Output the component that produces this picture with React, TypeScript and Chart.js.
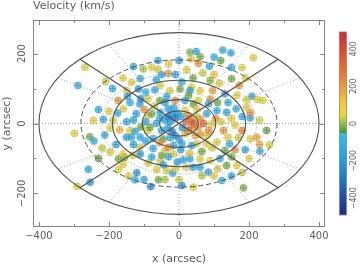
import { useEffect, useRef } from 'react';
import { Chart, registerables } from 'chart.js';

Chart.register(...registerables);

// Field positions (arcsec) and line-of-sight velocities (km/s)
const xArcsec = [
  -269, -289, -299, -259, -254, -291, -81, 8, 41, 184,
  122, 212, 125, 148, 31, 49, 60, 119, 258, 231,
  -130, 0, -102, -78, -31, -111, -135, -149, -116, -174,
  -147, -245, -216, -189, -255, -243, -212, -197, -170, -197,
  -173, -155, -132, -111, -173, -160, -121, -126, -88, -59,
  -64, -35, -18, -11, -54, -49, -40, 55, 87, 22,
  68, 89, 115, 172, 8, 96, 208, 224, 239, 193,
  163, 203, 203, 193, 203, 222, 189, 144, 108, 131,
  136, 165, 84, 65, 117, 60, 31, 12, -122, -112,
  -109, -89, -89, -109, -89, -112, -74, -74, -55, -150,
  -136, -160, -16, -31, 51, 79, -65, -54, 36, 40,
  150, -69, -26, 3, 31, 60, 89, 131, 165, -70,
  -130, -35, -11, 17, 41, 27, 55, 84, 110, 140,
  -159, -100, -78, -54, -31, 17, 51, 79, 108, 136,
  120, 60, -150, -140, -83, 93, 127, 160, -125, -111,
  -95, -45, -11, 17, 46, 79, 140, -55, 8, 36,
  65, 95, -78, -45, -16, 40, 89, 110, 150, 160,
  -40, -30, -20, -5, 25, 35, 42, 35, 25, -20,
  -32, -55, -50, 50, 55, -15, 0, -65, 70, -25,
  -10, 10, 20, -25, 5,
  -140, -130, -95, -50, -60, -175, -180, -220, -230, -200,
  -230, -145, -100, -40, 150, 180, 180, 105, 170, 230,
  250, 230, 200, 100, 60, 150, 180, 20, -5, 0,
  100, 190, 150, -10, 35, -160, -190, -210, -60, -30,
  100, 180, -40, 30, -30, 5, -95, 85, 60,
];
const yArcsec = [
  161, 109, -28, -131, -168, -180, -180, -177, -182, -184,
  -163, 188, 210, 202, 204, 206, 191, 180, -61, -79,
  163, 180, 156, 161, 143, 129, 118, 94, 99, 66,
  78, 9, 12, 9, -38, -50, -33, -13, -18, -82,
  -101, -97, -91, -87, -132, -117, -141, -161, -113, -161,
  -132, -134, -142, -130, -106, -91, -77, 172, 164, 154,
  145, 123, 115, 109, 119, 94, 78, 69, 66, 68,
  42, 16, 31, 47, -44, -39, -75, -58, -53, -77,
  -120, -120, -139, -149, -100, -101, -101, -104, 28, 56,
  71, 71, 23, -10, -20, -68, -43, -71, 66, -39,
  -39, -87, -63, -68, -58, -58, 125, 109, 104, 130,
  128, 96, 94, 99, 94, 94, 70, 85, 80, 50,
  10, 77, 66, 66, 56, 80, 66, 56, 60, 60,
  42, 40, 28, 32, 42, 37, 42, 28, 37, 32,
  5, 13, 5, -20, -11, -1, -20, -5, -22, -39,
  -50, -44, -34, -30, -34, -34, -40, -55, -58, -63,
  -80, -70, -96, -118, -87, -125, -106, -130, -95, -75,
  10, 20, 28, 30, 22, 12, 0, -12, -20, -22,
  -12, 15, -20, 20, -10, 45, -45, 0, 0, -40,
  15, -12, 5, 5, 20,
  60, -60, 90, 140, 155, 30, -60, -70, 40, 35,
  -100, -150, -160, -160, 15, 20, -20, 15, -40, 10,
  -20, -60, -100, -150, -125, -150, -140, -125, -110, -160,
  140, 130, 160, 140, 185, 130, 100, 120, 180, 170,
  190, 160, 60, -85, -95, -75, 5, -20, -30,
];
const velocity = [
  60, -120, 70, -130, -220, 50, -250, -240, 70, -20,
  -120, 80, -120, -150, -10, -130, -20, -30, 60, -130,
  -140, -170, 10, 50, 200, -110, 60, 80, -230, 200,
  -140, 60, -120, 40, -20, -120, -130, 60, 130, 70,
  -20, -10, 50, -230, 50, 60, -220, -130, 40, -20,
  60, 50, -130, 60, 60, -20, 80, 200, -130, 70,
  40, -10, 70, 190, -120, 180, -130, 70, 60, 50,
  -120, -140, 220, 60, 60, 160, -140, -120, 60, -20,
  -20, 60, -130, 20, -120, 50, -140, -130, -150, -130,
  -230, 60, 60, -20, 60, 60, -130, -130, -20, -130,
  -140, 60, -140, 200, 60, 60, -130, 60, 60, -20,
  -20, -130, 60, -20, -130, 60, 200, -130, 60, 60,
  -130, -130, 200, -130, -20, -20, 60, -130, -20, -130,
  60, 200, -20, -130, -130, 60, 60, -130, -130, -130,
  60, 200, -130, 60, -20, 60, 200, 60, -130, -130,
  -130, -20, -250, 60, 150, 60, 60, 200, -130, -130,
  -20, 60, -130, -130, 60, -130, 60, 60, -20, 200,
  -140, -260, -140, -150, 220, 260, 360, 250, 230, -300,
  -150, -130, -130, 60, 200, -130, -140, -130, 300, -130,
  -300, -200, 300, -200, -140,
  -110, -150, -90, -170, 40, -100, -160, 30, -120, 90,
  -30, 50, -140, 20, 80, -110, 240, 180, 40, 70,
  -30, 170, 50, 90, -150, -120, 30, 60, -160, 40,
  110, 70, -100, -140, 90, 50, -110, 40, -130, 80,
  -120, 60, -150, 100, -130, -170, -140, 220, 180,
];

const X_MIN = -417;
const X_MAX = 417;
const Y_MIN = -296;
const Y_MAX = 296;
const xTickValues = [-400, -300, -200, -100, 0, 100, 200, 300, 400];
const yTickValues = [-200, -100, 0, 100, 200];
const LABEL_STEP = 200;

// Ring overlay: radii along the major axis, flattened by the axis ratio
const ringRadii = [28, 55, 80, 105, 140, 190, 222, 280, 400];
const ringStyles = ['dotted', 'solid', 'dotted', 'solid', 'dotted', 'solid', 'dotted', 'dashed', 'solid'];
const AXIS_RATIO = 0.65;
const OUTER_RADIUS = 400;
const solidSpokes = [45, 135, 225, 315];
const dottedSpokes = [30, 60, 120, 150, 210, 240, 300, 330];
const DOTTED_SPOKE_START = 190;

// Colour bar
const colorbarTicks = [-400, -200, 0, 200, 400];
const VEL_LIMIT = 490;
const coolStops = [
  [-490, 35, 40, 135],
  [-400, 30, 75, 170],
  [-300, 25, 120, 205],
  [-200, 30, 160, 225],
  [-50, 45, 190, 235],
];
const warmStops = [
  [-50, 60, 150, 60],
  [0, 150, 195, 55],
  [50, 230, 220, 50],
  [100, 245, 205, 50],
  [200, 245, 150, 45],
  [300, 235, 105, 45],
  [400, 225, 70, 40],
  [490, 210, 45, 40],
];

const FONT = 'DejaVu Sans';
const TEXT_COLOR = '#5c5c5c';
const FRAME_COLOR = '#858585';

function colorAt(v: number): number[] {
  const stops = v < -50 ? coolStops : warmStops;
  const c = Math.max(stops[0][0], Math.min(stops[stops.length - 1][0], v));
  for (let i = 0; i < stops.length - 1; i++) {
    const a = stops[i];
    const b = stops[i + 1];
    if (c >= a[0] && c <= b[0]) {
      const t = b[0] === a[0] ? 0 : (c - a[0]) / (b[0] - a[0]);
      return [1, 2, 3].map((k) => Math.round(a[k] + (b[k] - a[k]) * t));
    }
  }
  const last = stops[stops.length - 1];
  return [last[1], last[2], last[3]];
}

const markerCache = new Map<string, HTMLCanvasElement>();
function markerFor(v: number): HTMLCanvasElement {
  const [r, g, b] = colorAt(v);
  const key = `${r},${g},${b}`;
  let c = markerCache.get(key);
  if (!c) {
    c = document.createElement('canvas');
    c.width = 9;
    c.height = 9;
    const m = c.getContext('2d')!;
    const dr = Math.round(r * 0.72);
    const dg = Math.round(g * 0.72);
    const db = Math.round(b * 0.82);
    m.beginPath();
    m.arc(4.5, 4.5, 3.5, 0, Math.PI * 2);
    m.fillStyle = `rgba(${r},${g},${b},0.68)`;
    m.fill();
    m.strokeStyle = `rgba(${dr},${dg},${db},0.72)`;
    m.lineWidth = 0.6;
    m.stroke();
    m.beginPath();
    m.moveTo(4.5, 1.1);
    m.lineTo(4.5, 7.9);
    m.moveTo(1.1, 4.5);
    m.lineTo(7.9, 4.5);
    m.stroke();
    markerCache.set(key, c);
  }
  return c;
}

function fmt(v: number): string {
  return v < 0 ? '\u2212' + Math.abs(v) : String(v);
}

const diskOverlay = {
  id: 'diskOverlay',
  afterDatasetsDraw(chart: any) {
    const { ctx, chartArea: a, scales } = chart;
    const xs = scales.x;
    const ys = scales.y;
    const px = (v: number) => xs.getPixelForValue(v);
    const py = (v: number) => ys.getPixelForValue(v);
    const cx = px(0);
    const cy = py(0);

    const setStyle = (style: string) => {
      if (style === 'solid') {
        ctx.strokeStyle = '#505050';
        ctx.lineWidth = 1.1;
        ctx.setLineDash([]);
      } else if (style === 'dashed') {
        ctx.strokeStyle = '#505050';
        ctx.lineWidth = 1;
        ctx.setLineDash([5, 3]);
      } else {
        ctx.strokeStyle = '#8a8a8a';
        ctx.lineWidth = 0.8;
        ctx.setLineDash([1, 2]);
      }
    };

    ctx.save();
    ctx.beginPath();
    ctx.rect(a.left, a.top, a.right - a.left, a.bottom - a.top);
    ctx.clip();

    // zero lines
    setStyle('dotted');
    ctx.beginPath();
    ctx.moveTo(a.left, cy);
    ctx.lineTo(a.right, cy);
    ctx.moveTo(cx, a.top);
    ctx.lineTo(cx, a.bottom);
    ctx.stroke();

    // rings
    ringRadii.forEach((r, i) => {
      setStyle(ringStyles[i]);
      ctx.beginPath();
      ctx.ellipse(cx, cy, px(r) - cx, cy - py(r * AXIS_RATIO), 0, 0, Math.PI * 2);
      ctx.stroke();
    });

    const spoke = (deg: number, r0: number, r1: number) => {
      const t = (deg * Math.PI) / 180;
      ctx.beginPath();
      ctx.moveTo(px(r0 * Math.cos(t)), py(r0 * AXIS_RATIO * Math.sin(t)));
      ctx.lineTo(px(r1 * Math.cos(t)), py(r1 * AXIS_RATIO * Math.sin(t)));
      ctx.stroke();
    };
    setStyle('dotted');
    dottedSpokes.forEach((d) => spoke(d, DOTTED_SPOKE_START, OUTER_RADIUS));
    setStyle('solid');
    solidSpokes.forEach((d) => spoke(d, 0, OUTER_RADIUS));
    ctx.restore();

    // frame with inward ticks
    ctx.save();
    ctx.strokeStyle = FRAME_COLOR;
    ctx.lineWidth = 1;
    ctx.setLineDash([]);
    ctx.strokeRect(a.left + 0.5, a.top + 0.5, a.right - a.left - 1, a.bottom - a.top - 1);
    ctx.beginPath();
    xs.ticks.forEach((t: any) => {
      const len = t.value % LABEL_STEP === 0 ? 5 : 3;
      const x = Math.round(px(t.value)) + 0.5;
      ctx.moveTo(x, a.bottom);
      ctx.lineTo(x, a.bottom - len);
      ctx.moveTo(x, a.top);
      ctx.lineTo(x, a.top + len);
    });
    ys.ticks.forEach((t: any) => {
      const len = t.value % LABEL_STEP === 0 ? 5 : 3;
      const y = Math.round(py(t.value)) + 0.5;
      ctx.moveTo(a.left, y);
      ctx.lineTo(a.left + len, y);
      ctx.moveTo(a.right, y);
      ctx.lineTo(a.right - len, y);
    });
    ctx.stroke();

    // vertical tick labels on the y axis, reading upward
    ctx.fillStyle = TEXT_COLOR;
    ctx.font = `10px "${FONT}"`;
    ctx.textAlign = 'center';
    ctx.textBaseline = 'middle';
    ys.ticks.forEach((t: any) => {
      if (t.value % LABEL_STEP !== 0) return;
      ctx.save();
      ctx.translate(a.left - 11, py(t.value));
      ctx.rotate(-Math.PI / 2);
      ctx.fillText(fmt(t.value), 0, 0);
      ctx.restore();
    });
    ctx.restore();
  },
  afterDraw(chart: any) {
    const { ctx, chartArea: a, scales } = chart;
    ctx.save();
    // colour bar title
    ctx.fillStyle = TEXT_COLOR;
    ctx.font = `11px "${FONT}"`;
    ctx.textAlign = 'left';
    ctx.textBaseline = 'middle';
    ctx.fillText('Velocity (km/s)', a.left, 6);

    // colour bar, aligned so that zero sits on the y = 0 line
    const barLeft = 339.5;
    const barWidth = 7;
    const zeroY = scales.y.getPixelForValue(0);
    const half = 91.5;
    const top = zeroY - half;
    const h = half * 2;
    for (let i = 0; i < Math.ceil(h); i++) {
      const v = VEL_LIMIT - ((i + 0.5) / h) * 2 * VEL_LIMIT;
      const [r, g, b] = colorAt(v);
      ctx.fillStyle = `rgb(${r},${g},${b})`;
      ctx.fillRect(barLeft, top + i, barWidth, 1);
    }
    ctx.strokeStyle = FRAME_COLOR;
    ctx.lineWidth = 0.8;
    ctx.strokeRect(barLeft, top, barWidth, h);

    ctx.fillStyle = TEXT_COLOR;
    ctx.font = `8px "${FONT}"`;
    ctx.textAlign = 'center';
    ctx.textBaseline = 'middle';
    colorbarTicks.forEach((t) => {
      const y = top + ((VEL_LIMIT - t) / (2 * VEL_LIMIT)) * h;
      ctx.save();
      ctx.translate(353.5, y);
      ctx.rotate(-Math.PI / 2);
      ctx.fillText(fmt(t), 0, 0);
      ctx.restore();
    });
    ctx.restore();
  },
};

export default function App() {
  const ref = useRef<HTMLCanvasElement>(null);

  useEffect(() => {
    const points = xArcsec.map((x, i) => ({ x, y: yArcsec[i] }));
    const chart = new Chart(ref.current!, {
      type: 'scatter',
      data: {
        datasets: [
          {
            data: points,
            pointStyle: (c: any) => markerFor(velocity[c.dataIndex]),
            pointRadius: 4,
          } as any,
        ],
      },
      options: {
        animation: false,
        responsive: false,
        events: [],
        layout: { padding: { top: 20, right: 37, left: 0, bottom: 0 } },
        plugins: {
          legend: { display: false },
          tooltip: { enabled: false },
          title: { display: false },
        },
        scales: {
          x: {
            type: 'linear',
            min: X_MIN,
            max: X_MAX,
            afterBuildTicks: (s: any) => {
              s.ticks = xTickValues.map((value) => ({ value }));
            },
            afterFit: (s: any) => {
              s.height = 38;
            },
            grid: { display: false, drawTicks: false },
            border: { display: false },
            ticks: {
              autoSkip: false,
              maxRotation: 0,
              padding: 3,
              color: TEXT_COLOR,
              font: { family: FONT, size: 10 },
              callback: (v: any) => (Number(v) % LABEL_STEP === 0 ? fmt(Number(v)) : ''),
            },
            title: {
              display: true,
              text: 'x (arcsec)',
              color: TEXT_COLOR,
              font: { family: FONT, size: 11, lineHeight: 1 },
              padding: { top: 0, bottom: 0 },
            },
          },
          y: {
            type: 'linear',
            min: Y_MIN,
            max: Y_MAX,
            afterBuildTicks: (s: any) => {
              s.ticks = yTickValues.map((value) => ({ value }));
            },
            afterFit: (s: any) => {
              s.width = 33;
            },
            grid: { display: false, drawTicks: false },
            border: { display: false },
            ticks: {
              autoSkip: false,
              color: TEXT_COLOR,
              font: { family: FONT, size: 10 },
              callback: () => '',
            },
            title: {
              display: true,
              text: 'y (arcsec)',
              color: TEXT_COLOR,
              font: { family: FONT, size: 11, lineHeight: 1.2 },
              padding: { top: 1, bottom: 0 },
            },
          },
        },
      },
      plugins: [diskOverlay],
    });
    return () => chart.destroy();
  }, []);

  return (
    <div style={{ position: 'fixed', left: 0, top: 0, width: 362, height: 265, background: '#fff' }}>
      <canvas ref={ref} width={362} height={265} style={{ display: 'block', width: 362, height: 265 }} />
    </div>
  );
}
